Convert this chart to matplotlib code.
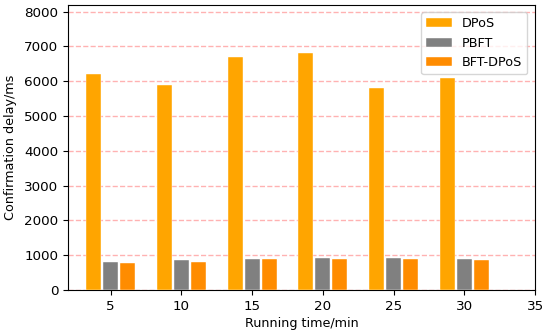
import numpy as np
import matplotlib
matplotlib.use('Agg')
import matplotlib.pyplot as plt

# Datos
running_time = [5, 10, 15, 20, 25, 30]
dpos = [6200, 5900, 6700, 6800, 5800, 6100]
pbft = [800, 850, 900, 920, 920, 890]
bft_dpos = [780, 820, 880, 900, 900, 870]

x = np.array(running_time)
width = 1.05
offset = 1.2

fig = plt.figure(figsize=(5.5, 3.33), dpi=100)
ax = fig.add_axes([0.124, 0.129, 0.849, 0.857])

ax.bar(x - offset, dpos, width, color='orange', edgecolor='white', linewidth=0.3, label='DPoS', zorder=3)
ax.bar(x, pbft, width, color='gray', edgecolor='white', linewidth=0.3, label='PBFT', zorder=3)
ax.bar(x + offset, bft_dpos, width, color='darkorange', edgecolor='white', linewidth=0.3, label='BFT-DPoS', zorder=3)

ax.set_xlim(2, 35)
ax.set_ylim(0, 8200)
ax.set_xticks([5, 10, 15, 20, 25, 30, 35])
ax.set_yticks(range(0, 8001, 1000))
ax.tick_params(labelsize=9.7)
ax.set_xlabel('Running time/min', fontsize=9.2, labelpad=3)
ax.set_ylabel('Confirmation delay/ms', fontsize=9.2, labelpad=5)
ax.grid(axis='y', color='red', alpha=0.3, linestyle='--', linewidth=1, zorder=0)
ax.legend(loc='upper right', fontsize=9.2, borderaxespad=0.6)

plt.savefig('out.png', dpi=100)
